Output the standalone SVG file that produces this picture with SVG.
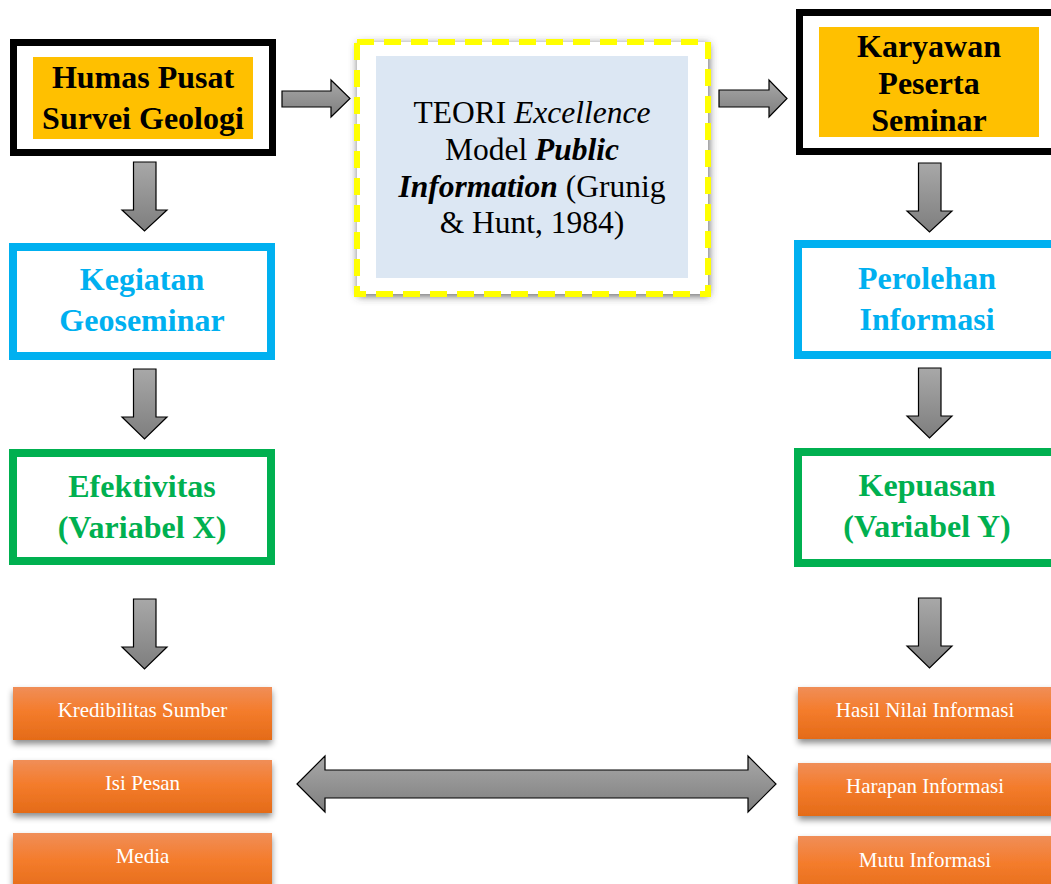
<svg xmlns="http://www.w3.org/2000/svg" width="1051" height="884" viewBox="0 0 1051 884">
<defs>
<linearGradient id="gray" x1="0" y1="0" x2="0" y2="1">
<stop offset="0" stop-color="#A8A8A8"/>
<stop offset="1" stop-color="#7E7E7E"/>
</linearGradient>
<linearGradient id="orange" x1="0" y1="0" x2="0" y2="1">
<stop offset="0" stop-color="#F08E58"/>
<stop offset="0.45" stop-color="#F47C2C"/>
<stop offset="1" stop-color="#E46B18"/>
</linearGradient>
<filter id="sh" x="-10%" y="-20%" width="120%" height="150%">
<feDropShadow dx="0" dy="4" stdDeviation="3" flood-color="#000" flood-opacity="0.45"/>
</filter>
<filter id="glow" x="-10%" y="-10%" width="120%" height="120%">
<feDropShadow dx="1" dy="2" stdDeviation="4.5" flood-color="#444" flood-opacity="0.85"/>
</filter>
</defs>
<style>
.t{font-family:"Liberation Serif","Times New Roman",serif;text-anchor:middle}
.b{font-weight:bold;font-size:32px}
.k{fill:#000}
.cy{fill:#00B0F0}
.gr{fill:#00B050}
.o{fill:url(#orange);filter:url(#sh)}
.ot{font-size:21px;fill:#fff}
.ar{fill:url(#gray);stroke:#000;stroke-width:1.2;stroke-linejoin:miter}
</style>
<rect width="1051" height="884" fill="#fff"/>

<g id="humas">
<rect x="13.5" y="42.5" width="259" height="110" fill="#fff" stroke="#000" stroke-width="7"/>
<rect x="33" y="57" width="220" height="82" fill="#FFC000"/>
<text class="t b k" x="143" y="88">Humas Pusat</text>
<text class="t b k" x="143" y="129">Survei Geologi</text>
</g>

<g id="teori">
<rect x="357" y="42" width="351" height="252" fill="#fff" filter="url(#glow)"/>
<rect x="357" y="42" width="351" height="252" fill="none" stroke="#FFFF00" stroke-width="6" stroke-dasharray="17 10"/>
<rect x="376" y="56" width="312" height="222" fill="#DCE7F3"/>
<text class="t" font-size="31.5" x="532" y="123">TEORI <tspan font-style="italic">Excellence</tspan></text>
<text class="t" font-size="31.5" x="532" y="160">Model <tspan font-weight="bold" font-style="italic">Public</tspan></text>
<text class="t" font-size="31.5" x="532" y="197"><tspan font-weight="bold" font-style="italic">Information</tspan> (Grunig</text>
<text class="t" font-size="31.5" x="532" y="233">&amp; Hunt, 1984)</text>
</g>

<g id="karyawan">
<rect x="799.5" y="12.5" width="262" height="139" fill="#fff" stroke="#000" stroke-width="7"/>
<rect x="819" y="27" width="220" height="110" fill="#FFC000"/>
<text class="t b k" x="929" y="57">Karyawan</text>
<text class="t b k" x="929" y="94">Peserta</text>
<text class="t b k" x="929" y="131">Seminar</text>
</g>

<g id="kegiatan">
<rect x="13" y="247" width="258" height="109" fill="#fff" stroke="#00B0F0" stroke-width="8"/>
<text class="t b cy" x="142" y="290">Kegiatan</text>
<text class="t b cy" x="142" y="331">Geoseminar</text>
</g>

<g id="efektivitas">
<rect x="13" y="453" width="258" height="108" fill="#fff" stroke="#00B050" stroke-width="8"/>
<text class="t b gr" x="142" y="497">Efektivitas</text>
<text class="t b gr" x="142" y="538">(Variabel X)</text>
</g>

<g id="perolehan">
<rect x="798" y="244" width="262" height="111" fill="#fff" stroke="#00B0F0" stroke-width="8"/>
<text class="t b cy" x="927" y="289">Perolehan</text>
<text class="t b cy" x="927" y="330">Informasi</text>
</g>

<g id="kepuasan">
<rect x="798" y="452" width="262" height="111" fill="#fff" stroke="#00B050" stroke-width="8"/>
<text class="t b gr" x="927" y="496">Kepuasan</text>
<text class="t b gr" x="927" y="537">(Variabel Y)</text>
</g>

<g id="kredibilitas">
<rect class="o" x="13" y="687" width="259" height="53"/>
<text class="t ot" x="142.5" y="717">Kredibilitas Sumber</text>
</g>
<g id="isi-pesan">
<rect class="o" x="13" y="760" width="259" height="53"/>
<text class="t ot" x="142.5" y="790">Isi Pesan</text>
</g>
<g id="media">
<rect class="o" x="13" y="833" width="259" height="60"/>
<text class="t ot" x="142.5" y="863">Media</text>
</g>
<g id="hasil-nilai">
<rect class="o" x="798" y="687" width="260" height="52"/>
<text class="t ot" x="925" y="717">Hasil Nilai Informasi</text>
</g>
<g id="harapan">
<rect class="o" x="798" y="763" width="260" height="53"/>
<text class="t ot" x="925" y="793">Harapan Informasi</text>
</g>
<g id="mutu">
<rect class="o" x="798" y="836" width="260" height="60"/>
<text class="t ot" x="925" y="867">Mutu Informasi</text>
</g>

<g id="connectors">
<path class="ar" d="M282,91 H331 V80 L350,98.5 L331,117 V107 H282 Z"/>
<path class="ar" d="M719,90 H769 V80 L787,98.5 L769,117 V107 H719 Z"/>
<path class="ar" d="M133.5,162 H156 V210 H167 L144.5,231 L122,210 H133.5 Z"/>
<path class="ar" d="M133.5,369 H156 V417 H167 L144.5,439 L122,417 H133.5 Z"/>
<path class="ar" d="M133.5,599 H156 V647 H167 L144.5,669 L122,647 H133.5 Z"/>
<path class="ar" d="M918.5,163 H941 V211 H952 L929.5,232 L907,211 H918.5 Z"/>
<path class="ar" d="M918.5,368 H941 V416 H952 L929.5,438 L907,416 H918.5 Z"/>
<path class="ar" d="M918.5,598 H941 V646 H952 L929.5,668 L907,646 H918.5 Z"/>
<path class="ar" d="M297,784 L325,756 V770 H748 V756 L776,784 L748,812 V798 H325 V812 Z"/>
</g>
</svg>
